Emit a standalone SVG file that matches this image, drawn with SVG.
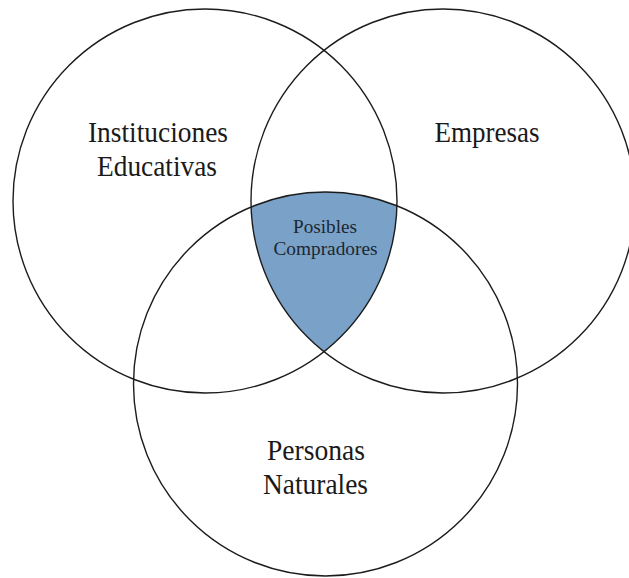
<svg xmlns="http://www.w3.org/2000/svg" width="629" height="578" viewBox="0 0 629 578">
  <style>
    .ring { fill: none; stroke: #1c1c1c; stroke-width: 1.4; }
    .big { font-family: "Liberation Serif", "Times New Roman", serif; font-size: 29.5px; fill: #1a1a1a; text-anchor: middle; }
    .small { font-family: "Liberation Serif", "Times New Roman", serif; font-size: 19.5px; fill: #1c2733; text-anchor: middle; }
  </style>
  <defs>
    <clipPath id="clipL"><circle cx="205" cy="201" r="192"/></clipPath>
    <clipPath id="clipR"><circle cx="443" cy="201" r="192"/></clipPath>
  </defs>
  <rect x="0" y="0" width="629" height="578" fill="#ffffff"/>
  <g id="overlap">
    <g clip-path="url(#clipL)">
      <g clip-path="url(#clipR)">
        <circle cx="325.5" cy="384" r="192" fill="#7aa2c8"/>
      </g>
    </g>
  </g>
  <g id="connectors"></g>
  <g id="instituciones">
    <circle class="ring" cx="205" cy="201" r="192"/>
    <text class="big" x="158" y="141.5" textLength="140" lengthAdjust="spacingAndGlyphs">Instituciones</text>
    <text class="big" x="157" y="175.5" textLength="120" lengthAdjust="spacingAndGlyphs">Educativas</text>
  </g>
  <g id="empresas">
    <circle class="ring" cx="443" cy="201" r="192"/>
    <text class="big" x="487" y="141.5" textLength="105" lengthAdjust="spacingAndGlyphs">Empresas</text>
  </g>
  <g id="personas">
    <circle class="ring" cx="325.5" cy="384" r="192"/>
    <text class="big" x="316" y="460" textLength="98" lengthAdjust="spacingAndGlyphs">Personas</text>
    <text class="big" x="315.5" y="493.5" textLength="105" lengthAdjust="spacingAndGlyphs">Naturales</text>
  </g>
  <g id="compradores">
    <text class="small" x="325" y="232.5" textLength="64" lengthAdjust="spacingAndGlyphs">Posibles</text>
    <text class="small" x="325.5" y="255" textLength="104" lengthAdjust="spacingAndGlyphs">Compradores</text>
  </g>
</svg>
